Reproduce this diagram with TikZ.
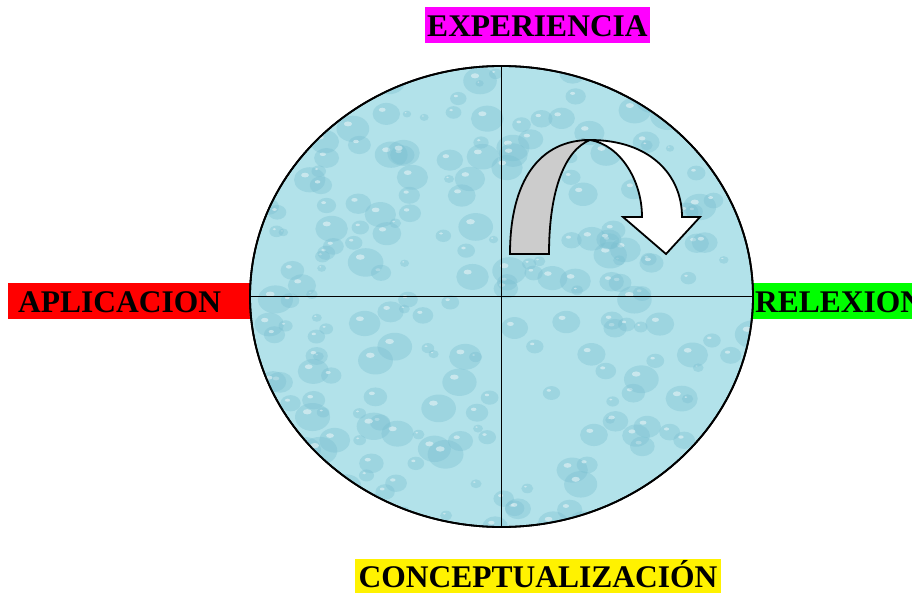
\documentclass[tikz,border=0pt]{standalone}
\usepackage{fontspec}
\setmainfont{Liberation Serif}
\usepackage{tikz}
\usetikzlibrary{shapes.geometric}
\definecolor{agua}{RGB}{178,226,234}
\definecolor{gota}{RGB}{120,190,208}
\definecolor{rosa}{RGB}{255,0,255}
\definecolor{verde}{RGB}{0,255,0}

\begin{document}
\begin{tikzpicture}[x=1pt,y=-1pt,
    etiqueta/.style={font=\bfseries\fontsize{31.5}{34}\selectfont,inner ysep=0pt,minimum height=36pt,text height=22pt,text depth=0pt},
    ciclo/.style={ellipse,draw,line width=1.8pt,inner sep=0pt,minimum width=503pt,minimum height=461pt},
    eje/.style={line width=1.8pt},
    flecha/.style={draw,line width=1.8pt,line join=miter}]
    \clip (0,0) rectangle (912,593);
    \node[etiqueta,fill=red,anchor=north west,text width=222pt,inner xsep=10pt,align=left] (apl) at (8,283) {APLICACION};
    \node[etiqueta,fill=verde,anchor=north west,text width=200pt,inner xsep=2pt,align=left] (rel) at (753,283) {RELEXION};
    \node[etiqueta,fill=rosa,minimum width=225pt,inner xsep=0pt] (exp) at (537.5,25.5) {EXPERIENCIA};
    \node[etiqueta,fill=yellow,minimum width=366pt,minimum height=34pt,inner xsep=0pt] (con) at (538,576) {CONCEPTUALIZACIÓN};
    \node[ciclo,fill=agua] (c) at (501.5,296.5) {};
    % gotas de agua
    \begin{scope}
        \clip (501.5,296.5) ellipse [x radius=251.5pt,y radius=230.5pt];
        \pgfmathsetseed{7}
        \foreach \i in {1,...,260} {
            \pgfmathsetmacro{\gx}{250+503*rnd}
            \pgfmathsetmacro{\gy}{66+461*rnd}
            \pgfmathsetmacro{\gr}{4+14*rnd}
            \fill[gota,opacity=0.35] (\gx,\gy) ellipse [x radius=\gr pt,y radius=0.8*\gr pt];
            \fill[white,opacity=0.45] (\gx-0.3*\gr,\gy-0.3*\gr) ellipse [x radius=0.25*\gr pt,y radius=0.15*\gr pt];
        }
    \end{scope}
    \node[ciclo] at (c) {};
    \draw[eje] (c.north) -- (c.south);
    \draw[eje] (c.west) -- (c.east);
    % flecha curva
    \coordinate (cima) at (590,140);
    \filldraw[flecha,fill=black!20] (510,254) .. controls (510,180) and (540,140) .. (cima)
        .. controls (565,150) and (549,190) .. (549,254) -- cycle;
    \filldraw[flecha,fill=white] (cima) .. controls (650,140) and (682,175) .. (682,217)
        -- (700,217) -- (666,254) -- (623,217) -- (642,217)
        .. controls (642,180) and (620,145) .. (cima) -- cycle;
\end{tikzpicture}
\end{document}
